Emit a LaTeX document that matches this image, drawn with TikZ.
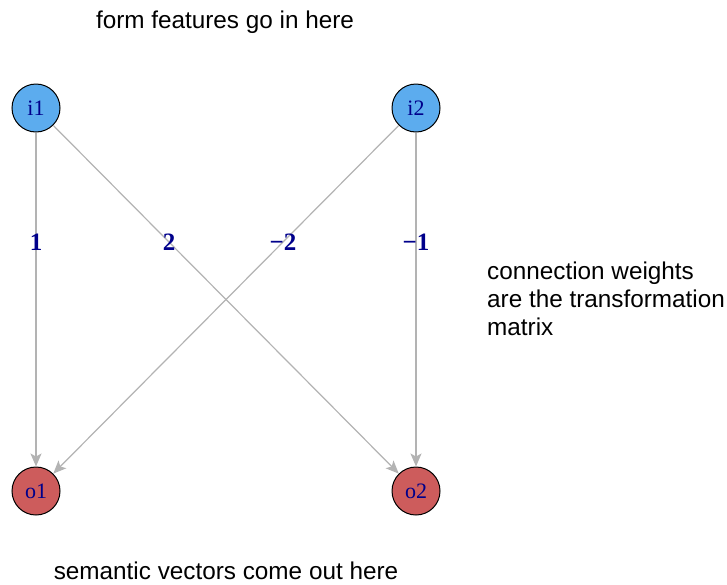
\documentclass[tikz,border=0pt]{standalone}
\usepackage{fontspec}
\setmainfont{Liberation Serif}
\newfontfamily\labsans{Liberation Sans}
\usetikzlibrary{arrows.meta,calc}
\definecolor{inblue}{HTML}{5CACEE}
\definecolor{outred}{HTML}{CD5C5C}
\definecolor{labblue}{HTML}{00008B}
\definecolor{edgegray}{HTML}{B3B3B3}
\tikzset{
  unit/.style={circle,draw=black,line width=1pt,minimum size=48pt,inner sep=0pt,text=labblue,font=\fontsize{22}{22}\selectfont},
  inunit/.style={unit,fill=inblue},
  outunit/.style={unit,fill=outred},
  wedge/.style={draw=edgegray,line width=1.2pt,-{Stealth[length=13pt,width=11pt,inset=3pt]}},
  wlab/.style={text=labblue,font=\fontsize{25}{25}\selectfont\bfseries,inner sep=1pt},
  note/.style={font=\labsans\fontsize{24.3}{28}\selectfont,inner sep=0pt}
}
\begin{document}
\begin{tikzpicture}[x=1pt,y=-1pt]
\useasboundingbox (0,0) rectangle (727,584);
\node[inunit] (i1) at (36,108) {i1};
\node[inunit] (i2) at (416,108) {i2};
\node[outunit] (o1) at (36,491) {o1};
\node[outunit] (o2) at (416,491) {o2};
\draw[wedge] (i1) -- (o1);
\draw[wedge] (i1) -- (o2);
\draw[wedge] (i2) -- (o1);
\draw[wedge] (i2) -- (o2);
\node[wlab] (w11) at ($(i1)!0.35!(o1)$) {1};
\node[wlab] (w12) at ($(i1)!0.35!(o2)$) {2};
\node[wlab] (w21) at ($(i2)!0.35!(o1)$) {\textminus2};
\node[wlab] (w22) at ($(i2)!0.35!(o2)$) {\textminus1};
\node[note] (top) at (225,22) {form features go in here};
\node[note,anchor=base] (bot) at (226,579.5) {semantic vectors come out here};
\node[note,anchor=west,align=left] (side) at (487,299) {connection weights\\are the transformation\\matrix};
\end{tikzpicture}
\end{document}
